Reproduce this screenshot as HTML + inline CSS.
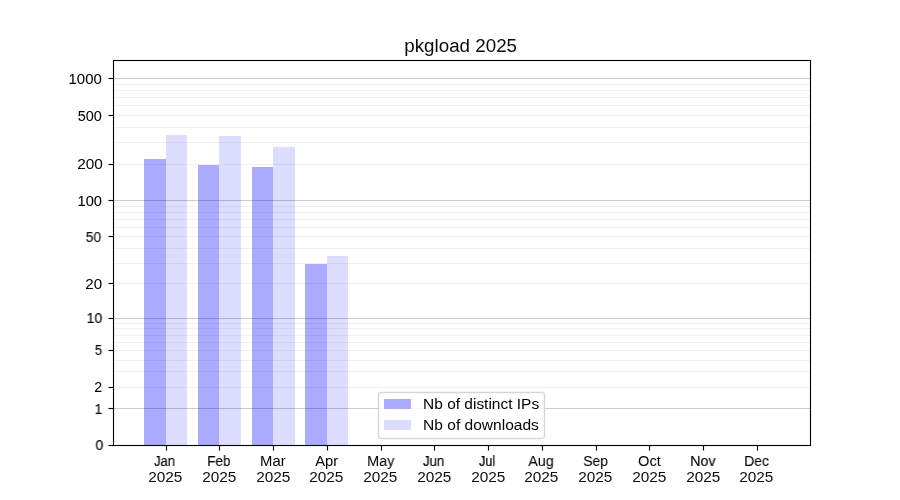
<!DOCTYPE html>
<html><head><meta charset="utf-8"><title>pkgload 2025</title>
<style>
html,body{margin:0;padding:0;background:#fff;}
body{width:900px;height:500px;position:relative;overflow:hidden;font-family:"Liberation Sans",sans-serif;color:#000;}
.a{position:absolute;}
.g{position:absolute;left:113px;width:698px;height:1px;}
.gM{background:rgba(0,0,0,0.2);}
.gm{background:rgba(0,0,0,0.06);}
.bd{position:absolute;background:#aaaaff;}
.bl{position:absolute;background:#ddddff;}
.tk{position:absolute;background:#000;}
.t{position:absolute;line-height:20px;height:20px;white-space:nowrap;transform-origin:0 0;will-change:transform;}
</style></head><body>

<div class="bd" style="left:144px;top:159px;width:22px;height:286px"></div>
<div class="bl" style="left:166px;top:135px;width:21px;height:310px"></div>
<div class="bd" style="left:198px;top:165px;width:21px;height:280px"></div>
<div class="bl" style="left:219px;top:136px;width:22px;height:309px"></div>
<div class="bd" style="left:252px;top:167px;width:21px;height:278px"></div>
<div class="bl" style="left:273px;top:147px;width:22px;height:298px"></div>
<div class="bd" style="left:305px;top:264px;width:22px;height:181px"></div>
<div class="bl" style="left:327px;top:256px;width:21px;height:189px"></div>
<div class="g gm" style="top:387px"></div>
<div class="g gm" style="top:371px"></div>
<div class="g gm" style="top:360px"></div>
<div class="g gm" style="top:350px"></div>
<div class="g gm" style="top:342px"></div>
<div class="g gm" style="top:335px"></div>
<div class="g gm" style="top:328px"></div>
<div class="g gm" style="top:323px"></div>
<div class="g gm" style="top:283px"></div>
<div class="g gm" style="top:263px"></div>
<div class="g gm" style="top:248px"></div>
<div class="g gm" style="top:236px"></div>
<div class="g gm" style="top:227px"></div>
<div class="g gm" style="top:219px"></div>
<div class="g gm" style="top:212px"></div>
<div class="g gm" style="top:206px"></div>
<div class="g gm" style="top:164px"></div>
<div class="g gm" style="top:142px"></div>
<div class="g gm" style="top:127px"></div>
<div class="g gm" style="top:115px"></div>
<div class="g gm" style="top:105px"></div>
<div class="g gm" style="top:97px"></div>
<div class="g gm" style="top:90px"></div>
<div class="g gm" style="top:84px"></div>
<div class="g gM" style="top:408px"></div>
<div class="g gM" style="top:318px"></div>
<div class="g gM" style="top:200px"></div>
<div class="g gM" style="top:78px"></div>
<div class="a" style="left:112px;top:59px;width:700px;height:388px;box-sizing:border-box;border:1px solid rgba(0,0,0,0.055)"></div>
<div class="a" style="left:114px;top:61px;width:696px;height:384px;box-sizing:border-box;border:1px solid rgba(0,0,0,0.055)"></div>
<div class="a" style="left:113px;top:60px;width:698px;height:386px;box-sizing:border-box;border:1px solid #000"></div>
<div class="a" style="left:108px;top:444px;width:5px;height:3px;background:rgba(0,0,0,0.055)"></div>
<div class="a" style="left:108px;top:445px;width:1px;height:1px;background:rgba(0,0,0,0.47)"></div>
<div class="tk" style="left:109px;top:445px;width:4px;height:1px"></div>
<div class="a" style="left:108px;top:407px;width:5px;height:3px;background:rgba(0,0,0,0.055)"></div>
<div class="a" style="left:108px;top:408px;width:1px;height:1px;background:rgba(0,0,0,0.47)"></div>
<div class="tk" style="left:109px;top:408px;width:4px;height:1px"></div>
<div class="a" style="left:108px;top:386px;width:5px;height:3px;background:rgba(0,0,0,0.055)"></div>
<div class="a" style="left:108px;top:387px;width:1px;height:1px;background:rgba(0,0,0,0.47)"></div>
<div class="tk" style="left:109px;top:387px;width:4px;height:1px"></div>
<div class="a" style="left:108px;top:349px;width:5px;height:3px;background:rgba(0,0,0,0.055)"></div>
<div class="a" style="left:108px;top:350px;width:1px;height:1px;background:rgba(0,0,0,0.47)"></div>
<div class="tk" style="left:109px;top:350px;width:4px;height:1px"></div>
<div class="a" style="left:108px;top:317px;width:5px;height:3px;background:rgba(0,0,0,0.055)"></div>
<div class="a" style="left:108px;top:318px;width:1px;height:1px;background:rgba(0,0,0,0.47)"></div>
<div class="tk" style="left:109px;top:318px;width:4px;height:1px"></div>
<div class="a" style="left:108px;top:282px;width:5px;height:3px;background:rgba(0,0,0,0.055)"></div>
<div class="a" style="left:108px;top:283px;width:1px;height:1px;background:rgba(0,0,0,0.47)"></div>
<div class="tk" style="left:109px;top:283px;width:4px;height:1px"></div>
<div class="a" style="left:108px;top:235px;width:5px;height:3px;background:rgba(0,0,0,0.055)"></div>
<div class="a" style="left:108px;top:236px;width:1px;height:1px;background:rgba(0,0,0,0.47)"></div>
<div class="tk" style="left:109px;top:236px;width:4px;height:1px"></div>
<div class="a" style="left:108px;top:199px;width:5px;height:3px;background:rgba(0,0,0,0.055)"></div>
<div class="a" style="left:108px;top:200px;width:1px;height:1px;background:rgba(0,0,0,0.47)"></div>
<div class="tk" style="left:109px;top:200px;width:4px;height:1px"></div>
<div class="a" style="left:108px;top:163px;width:5px;height:3px;background:rgba(0,0,0,0.055)"></div>
<div class="a" style="left:108px;top:164px;width:1px;height:1px;background:rgba(0,0,0,0.47)"></div>
<div class="tk" style="left:109px;top:164px;width:4px;height:1px"></div>
<div class="a" style="left:108px;top:114px;width:5px;height:3px;background:rgba(0,0,0,0.055)"></div>
<div class="a" style="left:108px;top:115px;width:1px;height:1px;background:rgba(0,0,0,0.47)"></div>
<div class="tk" style="left:109px;top:115px;width:4px;height:1px"></div>
<div class="a" style="left:108px;top:77px;width:5px;height:3px;background:rgba(0,0,0,0.055)"></div>
<div class="a" style="left:108px;top:78px;width:1px;height:1px;background:rgba(0,0,0,0.47)"></div>
<div class="tk" style="left:109px;top:78px;width:4px;height:1px"></div>
<div class="a" style="left:165px;top:446px;width:3px;height:5px;background:rgba(0,0,0,0.055)"></div>
<div class="a" style="left:166px;top:450px;width:1px;height:1px;background:rgba(0,0,0,0.47)"></div>
<div class="tk" style="left:166px;top:446px;width:1px;height:4px"></div>
<div class="a" style="left:218px;top:446px;width:3px;height:5px;background:rgba(0,0,0,0.055)"></div>
<div class="a" style="left:219px;top:450px;width:1px;height:1px;background:rgba(0,0,0,0.47)"></div>
<div class="tk" style="left:219px;top:446px;width:1px;height:4px"></div>
<div class="a" style="left:272px;top:446px;width:3px;height:5px;background:rgba(0,0,0,0.055)"></div>
<div class="a" style="left:273px;top:450px;width:1px;height:1px;background:rgba(0,0,0,0.47)"></div>
<div class="tk" style="left:273px;top:446px;width:1px;height:4px"></div>
<div class="a" style="left:326px;top:446px;width:3px;height:5px;background:rgba(0,0,0,0.055)"></div>
<div class="a" style="left:327px;top:450px;width:1px;height:1px;background:rgba(0,0,0,0.47)"></div>
<div class="tk" style="left:327px;top:446px;width:1px;height:4px"></div>
<div class="a" style="left:380px;top:446px;width:3px;height:5px;background:rgba(0,0,0,0.055)"></div>
<div class="a" style="left:381px;top:450px;width:1px;height:1px;background:rgba(0,0,0,0.47)"></div>
<div class="tk" style="left:381px;top:446px;width:1px;height:4px"></div>
<div class="a" style="left:433px;top:446px;width:3px;height:5px;background:rgba(0,0,0,0.055)"></div>
<div class="a" style="left:434px;top:450px;width:1px;height:1px;background:rgba(0,0,0,0.47)"></div>
<div class="tk" style="left:434px;top:446px;width:1px;height:4px"></div>
<div class="a" style="left:487px;top:446px;width:3px;height:5px;background:rgba(0,0,0,0.055)"></div>
<div class="a" style="left:488px;top:450px;width:1px;height:1px;background:rgba(0,0,0,0.47)"></div>
<div class="tk" style="left:488px;top:446px;width:1px;height:4px"></div>
<div class="a" style="left:541px;top:446px;width:3px;height:5px;background:rgba(0,0,0,0.055)"></div>
<div class="a" style="left:542px;top:450px;width:1px;height:1px;background:rgba(0,0,0,0.47)"></div>
<div class="tk" style="left:542px;top:446px;width:1px;height:4px"></div>
<div class="a" style="left:595px;top:446px;width:3px;height:5px;background:rgba(0,0,0,0.055)"></div>
<div class="a" style="left:596px;top:450px;width:1px;height:1px;background:rgba(0,0,0,0.47)"></div>
<div class="tk" style="left:596px;top:446px;width:1px;height:4px"></div>
<div class="a" style="left:648px;top:446px;width:3px;height:5px;background:rgba(0,0,0,0.055)"></div>
<div class="a" style="left:649px;top:450px;width:1px;height:1px;background:rgba(0,0,0,0.47)"></div>
<div class="tk" style="left:649px;top:446px;width:1px;height:4px"></div>
<div class="a" style="left:702px;top:446px;width:3px;height:5px;background:rgba(0,0,0,0.055)"></div>
<div class="a" style="left:703px;top:450px;width:1px;height:1px;background:rgba(0,0,0,0.47)"></div>
<div class="tk" style="left:703px;top:446px;width:1px;height:4px"></div>
<div class="a" style="left:756px;top:446px;width:3px;height:5px;background:rgba(0,0,0,0.055)"></div>
<div class="a" style="left:757px;top:450px;width:1px;height:1px;background:rgba(0,0,0,0.47)"></div>
<div class="tk" style="left:757px;top:446px;width:1px;height:4px"></div>
<div class="a" style="left:377px;top:391px;width:169px;height:49px;box-sizing:border-box;border:1px solid rgba(204,204,204,0.157);border-radius:4px"></div>
<div class="a" style="left:378px;top:392px;width:167px;height:47px;box-sizing:border-box;border:1px solid rgba(204,204,204,0.8);border-radius:3px;background:rgba(255,255,255,0.8)"></div>
<div class="a" style="left:379px;top:393px;width:165px;height:45px;box-sizing:border-box;border:1px solid rgba(204,204,204,0.157);border-radius:2px"></div>
<div class="a" style="left:384px;top:399px;width:27px;height:10px;background:#aaaaff"></div>
<div class="a" style="left:384px;top:420px;width:27px;height:10px;background:#ddddff"></div>
<div class="t" style="left:404px;top:36px;font-size:17.6px;transform:translateX(0.30px) scaleX(1.0668);color:rgb(9,9,9)">pkgload 2025</div>
<div class="t" style="left:95px;top:435px;font-size:14.2px;transform:translateX(0.51px) scaleX(0.9876);-webkit-text-stroke:0.140px #000">0</div>
<div class="t" style="left:94px;top:399px;font-size:14.2px;transform:translateX(0.62px) scaleX(0.9665);-webkit-text-stroke:0.127px #000">1</div>
<div class="t" style="left:94px;top:377px;font-size:14.2px;transform:translateX(0.25px) scaleX(1.0008);-webkit-text-stroke:0.042px #000">2</div>
<div class="t" style="left:94px;top:340px;font-size:14.2px;transform:translateX(0.76px) scaleX(0.9343);-webkit-text-stroke:0.039px #000">5</div>
<div class="t" style="left:86px;top:308px;font-size:14.2px;transform:translateX(0.60px) scaleX(0.9876);-webkit-text-stroke:0.131px #000">10</div>
<div class="t" style="left:85px;top:274px;font-size:14.2px;transform:translateX(0.20px) scaleX(1.0717);color:rgb(1,1,1)">20</div>
<div class="t" style="left:85px;top:227px;font-size:14.2px;transform:translateX(0.73px) scaleX(0.9709);-webkit-text-stroke:0.075px #000">50</div>
<div class="t" style="left:77px;top:191px;font-size:14.2px;transform:translateX(0.55px) scaleX(1.0318);-webkit-text-stroke:0.075px #000">100</div>
<div class="t" style="left:77px;top:154px;font-size:14.2px;transform:translateX(0.19px) scaleX(1.0856);color:rgb(3,3,3)">200</div>
<div class="t" style="left:77px;top:106px;font-size:14.2px;transform:translateX(0.70px) scaleX(1.0200);-webkit-text-stroke:0.041px #000">500</div>
<div class="t" style="left:68px;top:69px;font-size:14.2px;transform:translateX(0.53px) scaleX(1.0527);-webkit-text-stroke:0.049px #000">1000</div>
<div class="t" style="left:154px;top:451px;font-size:14.7px;transform:translateX(0.09px) scaleX(0.8862);-webkit-text-stroke:0.144px #000">Jan</div>
<div class="t" style="left:148px;top:467px;font-size:14.2px;transform:translateX(0.19px) scaleX(1.0836);color:rgb(12,12,12)">2025</div>
<div class="t" style="left:207px;top:451px;font-size:14.7px;transform:translateX(0.23px) scaleX(0.9147);-webkit-text-stroke:0.111px #000">Feb</div>
<div class="t" style="left:202px;top:467px;font-size:14.2px;transform:translateX(0.19px) scaleX(1.0836);color:rgb(12,12,12)">2025</div>
<div class="t" style="left:260px;top:451px;font-size:14.7px;transform:translateX(0.11px) scaleX(1.0109);color:rgb(1,1,1)">Mar</div>
<div class="t" style="left:256px;top:467px;font-size:14.2px;transform:translateX(0.19px) scaleX(1.0836);color:rgb(12,12,12)">2025</div>
<div class="t" style="left:315px;top:451px;font-size:14.7px;transform:translateX(0.30px) scaleX(1.0029);-webkit-text-stroke:0.030px #000">Apr</div>
<div class="t" style="left:309px;top:467px;font-size:14.2px;transform:translateX(0.19px) scaleX(1.0836);color:rgb(12,12,12)">2025</div>
<div class="t" style="left:367px;top:451px;font-size:14.7px;transform:translateX(0.15px) scaleX(0.9770);-webkit-text-stroke:0.027px #000">May</div>
<div class="t" style="left:363px;top:467px;font-size:14.2px;transform:translateX(0.19px) scaleX(1.0836);color:rgb(12,12,12)">2025</div>
<div class="t" style="left:423px;top:451px;font-size:14.7px;transform:translateX(0.09px) scaleX(0.8920);-webkit-text-stroke:0.180px #000">Jun</div>
<div class="t" style="left:417px;top:467px;font-size:14.2px;transform:translateX(0.19px) scaleX(1.0836);color:rgb(12,12,12)">2025</div>
<div class="t" style="left:479px;top:451px;font-size:14.7px;transform:translateX(0.10px) scaleX(0.8571);-webkit-text-stroke:0.220px #000">Jul</div>
<div class="t" style="left:471px;top:467px;font-size:14.2px;transform:translateX(0.19px) scaleX(1.0836);color:rgb(12,12,12)">2025</div>
<div class="t" style="left:528px;top:451px;font-size:14.7px;transform:translateX(0.30px) scaleX(0.9711);-webkit-text-stroke:0.041px #000">Aug</div>
<div class="t" style="left:524px;top:467px;font-size:14.2px;transform:translateX(0.19px) scaleX(1.0836);color:rgb(12,12,12)">2025</div>
<div class="t" style="left:583px;top:451px;font-size:14.7px;transform:translateX(0.30px) scaleX(0.9394);-webkit-text-stroke:0.126px #000">Sep</div>
<div class="t" style="left:578px;top:467px;font-size:14.2px;transform:translateX(0.19px) scaleX(1.0836);color:rgb(12,12,12)">2025</div>
<div class="t" style="left:638px;top:451px;font-size:14.7px;transform:translateX(0.04px) scaleX(0.9932);-webkit-text-stroke:0.017px #000">Oct</div>
<div class="t" style="left:632px;top:467px;font-size:14.2px;transform:translateX(0.19px) scaleX(1.0836);color:rgb(12,12,12)">2025</div>
<div class="t" style="left:690px;top:451px;font-size:14.7px;transform:translateX(0.15px) scaleX(0.9745);-webkit-text-stroke:0.152px #000">Nov</div>
<div class="t" style="left:686px;top:467px;font-size:14.2px;transform:translateX(0.19px) scaleX(1.0836);color:rgb(12,12,12)">2025</div>
<div class="t" style="left:744px;top:451px;font-size:14.7px;transform:translateX(0.18px) scaleX(0.9518);-webkit-text-stroke:0.115px #000">Dec</div>
<div class="t" style="left:739px;top:467px;font-size:14.2px;transform:translateX(0.19px) scaleX(1.0836);color:rgb(12,12,12)">2025</div>
<div class="t" style="left:423px;top:394px;font-size:14.7px;transform:translateX(0.05px) scaleX(1.0537);color:rgb(2,2,2)">Nb of distinct IPs</div>
<div class="t" style="left:423px;top:415px;font-size:14.7px;transform:translateX(0.05px) scaleX(1.0588);color:rgb(4,4,4)">Nb of downloads</div>
</body></html>
